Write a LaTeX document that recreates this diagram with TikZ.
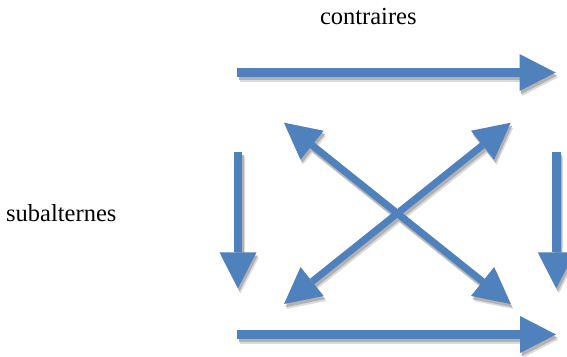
\documentclass[tikz,border=0pt]{standalone}
\usepackage{fontspec}
\setmainfont{Liberation Serif}
\usetikzlibrary{arrows.meta}
\definecolor{ablue}{RGB}{79,129,189}
\newcommand\drawallarrows{%
  \draw[arr] (T1) -- (T2);
  \draw[arr] (B1) -- (B2);
  \draw[arr] (L1) -- (L2);
  \draw[arr] (R1) -- (R2);
  \draw[darr] (D1a) -- (D1b);
  \draw[darr] (D2a) -- (D2b);
}
\begin{document}
\begin{tikzpicture}[x=1bp,y=-1bp,
  tip/.style={},
  arr/.style={line width=8.5bp, draw=ablue, -{Triangle[length=36bp,width=37bp,line width=0pt]}},
  darr/.style={line width=7bp, draw=ablue, {Triangle[length=36bp,width=37bp,line width=0pt]}-{Triangle[length=36bp,width=37bp,line width=0pt]}},
  lbl/.style={inner sep=0pt, font=\fontsize{24.5bp}{28bp}\selectfont}]
\useasboundingbox (0,0) rectangle (567,356);
\coordinate (T1) at (237,72.5);
\coordinate (T2) at (555.5,72.5);
\coordinate (B1) at (237,334.5);
\coordinate (B2) at (556,334.5);
\coordinate (L1) at (238,151.5);
\coordinate (L2) at (238,288.3);
\coordinate (R1) at (556.3,151.5);
\coordinate (R2) at (556.3,288.3);
\coordinate (D1a) at (284,122.7);
\coordinate (D1b) at (510.7,304);
\coordinate (D2a) at (510.7,122.7);
\coordinate (D2b) at (284,304);
\begin{scope}[transform canvas={shift={(2.5,5)}}]
  \colorlet{ablue}{black!14}
  \drawallarrows
\end{scope}
\begin{scope}[transform canvas={shift={(1.5,3.2)}}]
  \colorlet{ablue}{black!30}
  \drawallarrows
\end{scope}
\drawallarrows
\node[lbl, anchor=base] (contr) at (368.3,24) {contraires};
\node[lbl, anchor=base west] (subal) at (6,221.7) {subalternes};
\end{tikzpicture}
\end{document}
